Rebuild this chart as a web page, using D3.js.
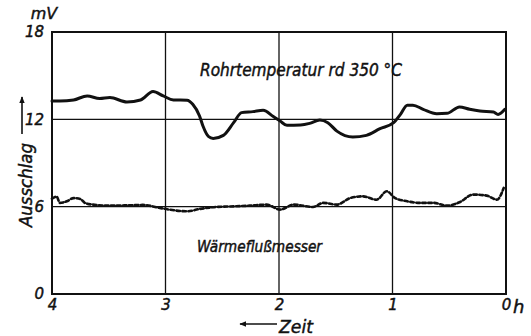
<!DOCTYPE html>
<html>
<head>
<meta charset="utf-8">
<script src="https://cdn.jsdelivr.net/npm/d3@7"></script>
<style>
  html, body { margin: 0; padding: 0; background: #fff; }
  svg { display: block; }
</style>
</head>
<body>
<svg id="chart" width="531" height="336"></svg>
<script>
// Time axis runs backwards: 4 h on the left, 0 h on the right
const hourTicks = [4, 3, 2, 1, 0];
const mvTicks = [0, 6, 12, 18];

// Rohrtemperatur (pipe temperature, about 350 °C) – recorder deflection in mV
const tempHours = [4.00, 3.93, 3.81, 3.69, 3.58, 3.49, 3.34, 3.22, 3.11, 3.02, 2.93, 2.81, 2.76, 2.70, 2.67, 2.62, 2.58, 2.49, 2.40, 2.33, 2.23, 2.14, 2.05, 1.99, 1.93, 1.81, 1.73, 1.64, 1.57, 1.49, 1.35, 1.23, 1.11, 0.99, 0.93, 0.87, 0.82, 0.73, 0.61, 0.52, 0.41, 0.32, 0.23, 0.11, 0.07, 0.01];
const tempMv    = [13.26, 13.26, 13.33, 13.61, 13.43, 13.50, 13.19, 13.33, 13.91, 13.61, 13.33, 13.31, 13.03, 12.23, 11.54, 10.81, 10.69, 10.90, 11.77, 12.46, 12.53, 12.62, 12.19, 11.88, 11.59, 11.61, 11.72, 11.95, 11.77, 11.19, 10.78, 10.90, 11.36, 11.77, 12.34, 12.97, 12.97, 12.69, 12.39, 12.41, 12.85, 12.69, 12.57, 12.50, 12.34, 12.69];

// Wärmeflußmesser (heat-flow meter) – recorder deflection in mV
const fluxHours = [4.00, 3.96, 3.93, 3.87, 3.81, 3.75, 3.71, 3.64, 3.49, 3.34, 3.20, 3.05, 2.96, 2.81, 2.70, 2.55, 2.40, 2.26, 2.11, 1.99, 1.87, 1.70, 1.61, 1.49, 1.37, 1.26, 1.14, 1.05, 0.98, 0.87, 0.76, 0.64, 0.52, 0.41, 0.29, 0.17, 0.08, 0.02];
const fluxMv    = [6.55, 6.69, 6.26, 6.37, 6.59, 6.53, 6.26, 6.14, 6.07, 6.09, 6.12, 5.91, 5.79, 5.68, 5.84, 5.98, 6.02, 6.07, 6.14, 5.80, 6.14, 5.98, 6.26, 6.14, 6.60, 6.71, 6.48, 7.06, 6.60, 6.37, 6.26, 6.26, 6.07, 6.30, 6.83, 6.76, 6.48, 7.29];

const FONT = "DejaVu Sans";
const INK = "#111";

const svg = d3.select("#chart")
  .attr("font-family", FONT).attr("font-style", "italic");
const W = 531, H = 336;
const margin = { top: 32, right: 25, bottom: 42, left: 52 };

const x = d3.scaleLinear().domain([4, 0]).range([margin.left, W - margin.right]);
const y = d3.scaleLinear().domain([0, 18]).range([H - margin.bottom, margin.top]);

// Lettering: italic with a hairline outline for a heavier, drawn look
function label(sel) {
  return sel.attr("font-family", FONT).attr("font-style", "italic").attr("fill", INK)
    .attr("stroke", INK).attr("stroke-width", 0.45);
}

// Grid lines
const grid = svg.append("g").attr("stroke", INK).attr("stroke-width", 1.3);
grid.selectAll("line.v").data(hourTicks.slice(1, -1)).join("line")
  .attr("x1", d => x(d)).attr("x2", d => x(d))
  .attr("y1", y(18)).attr("y2", y(0));
grid.selectAll("line.h").data(mvTicks.slice(1, -1)).join("line")
  .attr("x1", x(4)).attr("x2", x(0))
  .attr("y1", d => y(d)).attr("y2", d => y(d));

// Frame
svg.append("rect")
  .attr("x", x(4)).attr("y", y(18))
  .attr("width", x(0) - x(4)).attr("height", y(0) - y(18))
  .attr("fill", "none").attr("stroke", INK).attr("stroke-width", 2);

// Axes (labels only, tick marks replaced by the grid)
const yAxis = d3.axisLeft(y).tickValues(mvTicks).tickSize(0).tickPadding(8).tickFormat(d3.format("d"));
svg.append("g").attr("transform", `translate(${x(4)},0)`).call(yAxis)
  .call(g => g.select(".domain").remove())
  .call(g => g.selectAll("text").call(label).attr("font-size", 15));

const xAxis = d3.axisBottom(x).tickValues(hourTicks).tickSize(0).tickPadding(5).tickFormat(d3.format("d"));
svg.append("g").attr("transform", `translate(0,${y(0)})`).call(xAxis)
  .call(g => g.select(".domain").remove())
  .call(g => g.selectAll("text").call(label).attr("font-size", 15));

// Units
svg.append("text").call(label).attr("x", x(4) - 8).attr("y", y(18) - 13)
  .attr("text-anchor", "middle").attr("font-size", 16).text("mV");
svg.append("text").call(label).attr("x", x(0) + 7).attr("y", y(0) + 19)
  .attr("font-size", 18).text("h");

// Axis titles with arrows
svg.append("defs").append("marker").attr("id", "head")
  .attr("viewBox", "0 0 10 10").attr("refX", 9).attr("refY", 5)
  .attr("markerWidth", 7).attr("markerHeight", 7).attr("orient", "auto-start-reverse")
  .attr("markerUnits", "userSpaceOnUse")
  .append("path").attr("d", "M0,1 L10,5 L0,9 Z").attr("fill", INK);

svg.append("text").call(label)
  .attr("transform", `translate(32,227) rotate(-90)`)
  .attr("font-size", 17).attr("textLength", 84).attr("lengthAdjust", "spacingAndGlyphs")
  .text("Ausschlag");
svg.append("line").attr("x1", 22).attr("x2", 22).attr("y1", 134).attr("y2", 97)
  .attr("stroke", INK).attr("stroke-width", 1.6).attr("marker-end", "url(#head)");

svg.append("text").call(label).attr("x", 279).attr("y", 333)
  .attr("font-size", 18).attr("textLength", 34).attr("lengthAdjust", "spacingAndGlyphs").text("Zeit");
svg.append("line").attr("x1", 277).attr("x2", 240).attr("y1", 324).attr("y2", 324)
  .attr("stroke", INK).attr("stroke-width", 1.6).attr("marker-end", "url(#head)");

// Curves
const line = d3.line()
  .x(d => x(d[0])).y(d => y(d[1]))
  .curve(d3.curveMonotoneX);

const temp = tempHours.map((h, i) => [h, tempMv[i]]);
const flux = fluxHours.map((h, i) => [h, fluxMv[i]]);

svg.append("path").datum(temp).attr("d", line)
  .attr("fill", "none").attr("stroke", INK).attr("stroke-width", 3)
  .attr("stroke-linejoin", "round").attr("stroke-linecap", "round");

svg.append("path").datum(flux).attr("d", line)
  .attr("fill", "none").attr("stroke", INK).attr("stroke-width", 2.6)
  .attr("stroke-dasharray", "3.5,2.5").attr("stroke-linecap", "round");

// Series captions
svg.append("text").call(label).attr("x", 200).attr("y", 76)
  .attr("font-size", 17).attr("textLength", 202).attr("lengthAdjust", "spacingAndGlyphs")
  .text("Rohrtemperatur rd 350 °C");
svg.append("text").call(label).attr("x", 197).attr("y", 252)
  .attr("font-size", 15).attr("textLength", 125).attr("lengthAdjust", "spacingAndGlyphs")
  .text("Wärmeflußmesser");
</script>
</body>
</html>
